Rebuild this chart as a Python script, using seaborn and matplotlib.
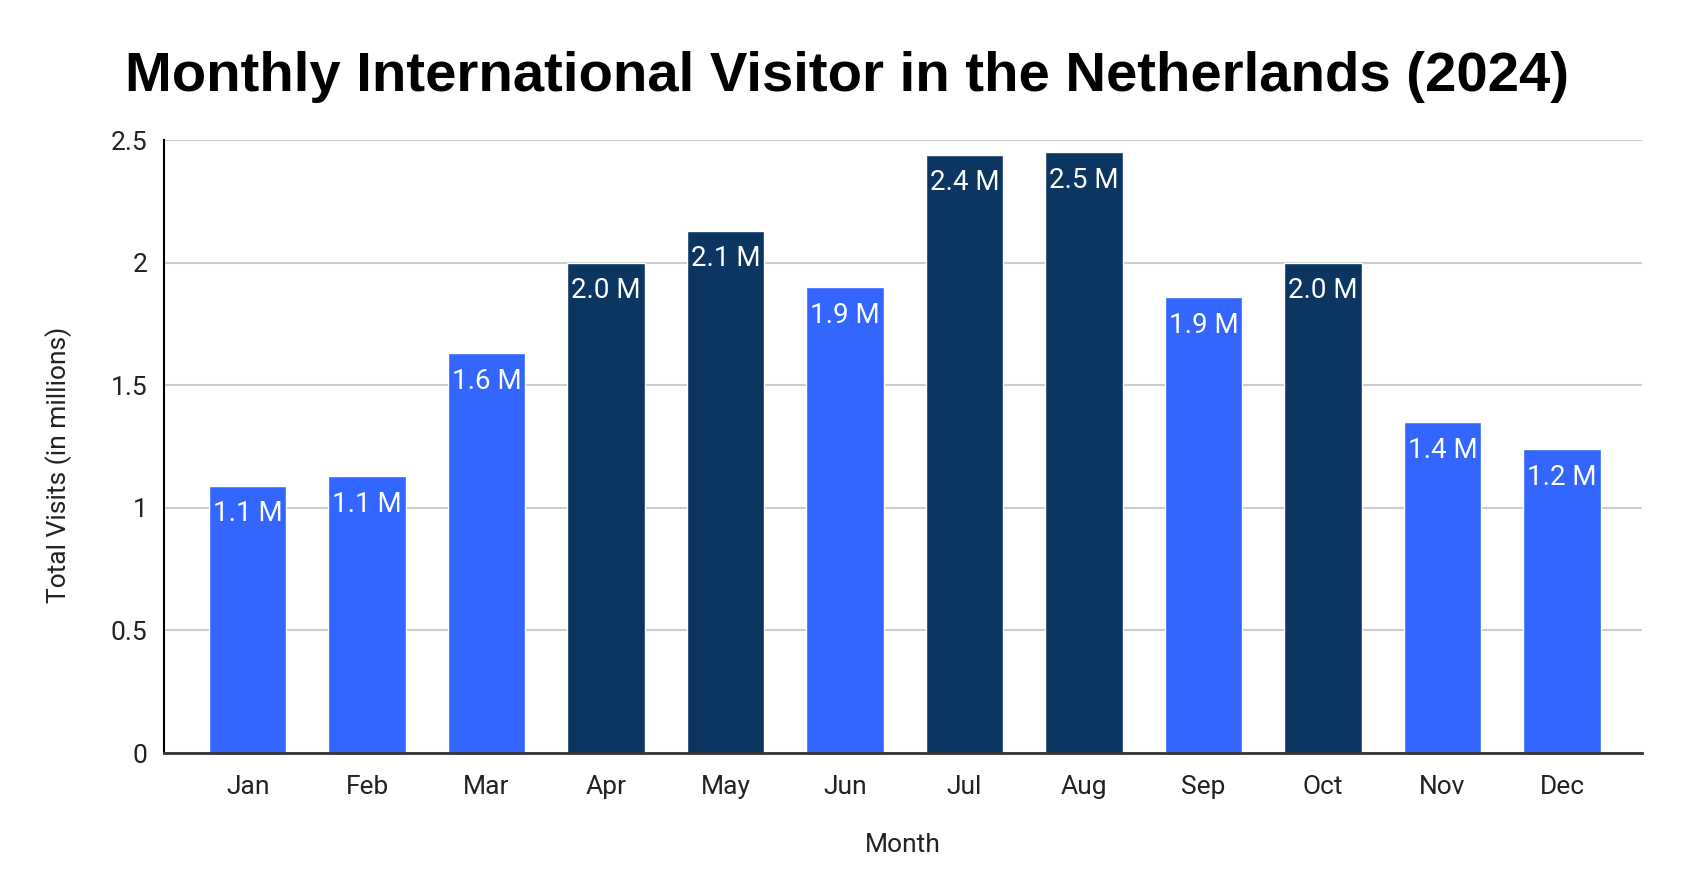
import matplotlib
matplotlib.use('Agg')
import numpy as np
import pandas as pd
import matplotlib.pyplot as plt
import seaborn as sns

months = ['Jan', 'Feb', 'Mar', 'Apr', 'May', 'Jun', 'Jul', 'Aug', 'Sep', 'Oct', 'Nov', 'Dec']
visits = [1.09, 1.13, 1.63, 2.00, 2.13, 1.90, 2.44, 2.45, 1.86, 2.00, 1.35, 1.24]
bar_labels = ['1.1 M', '1.1 M', '1.6 M', '2.0 M', '2.1 M', '1.9 M',
              '2.4 M', '2.5 M', '1.9 M', '2.0 M', '1.4 M', '1.2 M']
peak = [False, False, False, True, True, False, True, True, False, True, False, False]

BLUE = '#3366FF'
NAVY = '#0A3661'

df = pd.DataFrame({'month': months, 'visits': visits,
                   'group': ['peak' if p else 'normal' for p in peak]})

sns.set_theme(style='white')
plt.rcParams['font.family'] = ['Roboto', 'DejaVu Sans']

W, H = 1694, 888
fig = plt.figure(figsize=(W / 100, H / 100), dpi=100)
ax = fig.add_axes([164 / W, 1 - 753 / H, (1642 - 164) / W, (753 - 140) / H])

sns.barplot(data=df, x='month', y='visits', hue='group',
            palette={'normal': BLUE, 'peak': NAVY}, width=0.65,
            dodge=False, legend=False, ax=ax, saturation=1)

# labels sit inside the top of each bar
for cont in ax.containers:
    labs = []
    for rect in cont:
        i = int(round(rect.get_x() + rect.get_width() / 2))
        labs.append(bar_labels[i] if rect.get_height() > 0 else '')
    ax.bar_label(cont, labels=labs, padding=-30, color='white', fontsize=20)

ax.set_xlim(-0.7, 11.67)
ax.set_ylim(0, 2.5)
ax.set_yticks([0, 0.5, 1, 1.5, 2, 2.5])
ax.set_yticklabels(['0', '0.5', '1', '1.5', '2', '2.5'])
ax.yaxis.grid(True, color='#CCCCCC', linewidth=1.5)
ax.set_axisbelow(True)
ax.tick_params(axis='both', length=0, labelsize=19, colors='#222222')
ax.tick_params(axis='x', pad=16)
ax.tick_params(axis='y', pad=12)
for s in ['top', 'right']:
    ax.spines[s].set_visible(False)
ax.spines['left'].set_color('black')
ax.spines['bottom'].set_color('#333333')
ax.spines['left'].set_linewidth(1.5)
ax.spines['bottom'].set_linewidth(2)

ax.set_xlabel('Month', fontsize=19, color='#222222', labelpad=24)
ax.set_ylabel('Total Visits (in millions)', fontsize=19, color='#222222', labelpad=28)
ax.yaxis.label.set_y(0.47)

fig.suptitle('Monthly International Visitor in the Netherlands (2024)',
             family='Liberation Sans', fontweight='bold', fontsize=40.5,
             color='black', x=0.5, y=1 - 77 / H, va='center')

fig.savefig('out.png', dpi=100, facecolor='white')
